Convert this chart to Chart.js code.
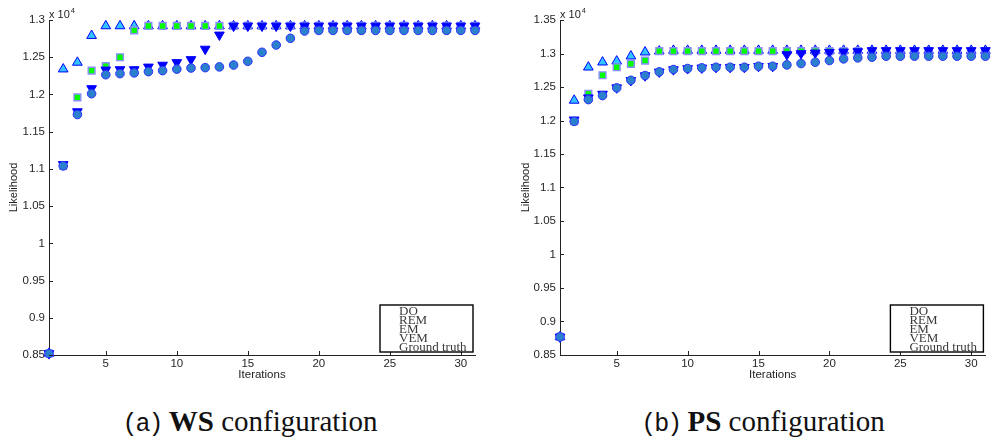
<!DOCTYPE html>
<html><head><meta charset="utf-8">
<script src="https://cdn.jsdelivr.net/npm/chart.js@4/dist/chart.umd.min.js"></script>
<style>
html,body{margin:0;padding:0;background:#fff}
body{width:992px;height:444px;overflow:hidden;position:relative}
.wrap{position:absolute;top:0;width:496px;height:392px}
.cap{position:absolute;top:405px;font-family:"Liberation Serif","Times New Roman",serif;font-size:29px;color:#111;white-space:nowrap;transform:translateX(-50%)}
.cap .m{font-family:"Liberation Mono","DejaVu Sans Mono",monospace;font-size:25px;letter-spacing:-2px;font-weight:300}
.cap b{font-weight:bold}
</style></head><body>
<div class="wrap" style="left:0"><canvas id="c1" width="496" height="392"></canvas></div>
<div class="wrap" style="left:496px"><canvas id="c2" width="496" height="392"></canvas></div>
<div class="cap" style="left:250px"><span class="m">(a)</span> <b>WS</b> configuration</div>
<div class="cap" style="left:763px"><span class="m">(b)</span> <b>PS</b> configuration</div>
<script>
// Data (likelihood in units of 10^4)
const iterations = [1,2,3,4,5,6,7,8,9,10,11,12,13,14,15,16,17,18,19,20,21,22,23,24,25,26,27,28,29,30,31];
const legendLabels = ["DO","REM","EM","VEM","Ground truth"];
const xTicks = [5,10,15,20,25,30];

// (a) WS configuration
const wsDO  = [0.852,1.234,1.243,1.279,1.292,1.292,1.292,1.292,1.292,1.292,1.292,1.292,1.292,1.292,1.292,1.292,1.292,1.292,1.292,1.292,1.292,1.292,1.292,1.292,1.292,1.292,1.292,1.292,1.292,1.292,1.292];
const wsREM = [0.852,1.104,1.196,1.232,1.238,1.250,1.286,1.292,1.292,1.292,1.292,1.292,1.292,1.292,1.292,1.292,1.292,1.292,1.292,1.292,1.292,1.292,1.292,1.292,1.292,1.292,1.292,1.292,1.292,1.292,1.292];
const wsEM  = [0.852,1.104,1.173,1.201,1.2265,1.228,1.229,1.2306,1.232,1.234,1.2355,1.236,1.237,1.2395,1.2445,1.2566,1.2664,1.2754,1.2852,1.286,1.286,1.286,1.286,1.286,1.286,1.286,1.286,1.286,1.286,1.286,1.286];
const wsVEM = [0.852,1.106,1.177,1.208,1.233,1.2335,1.2335,1.237,1.2395,1.243,1.247,1.261,1.280,1.292,1.292,1.292,1.292,1.292,1.292,1.292,1.292,1.292,1.292,1.292,1.292,1.292,1.292,1.292,1.292,1.292,1.292];
const wsTicks = [0.85,0.9,0.95,1,1.05,1.1,1.15,1.2,1.25,1.3];

// (b) PS configuration
const psDO  = [0.877,1.230,1.2795,1.287,1.2885,1.296,1.302,1.3034,1.3045,1.3045,1.3045,1.3045,1.3045,1.3045,1.3045,1.3045,1.3045,1.3045,1.3045,1.3045,1.3045,1.3045,1.3045,1.3045,1.3045,1.3045,1.3045,1.3045,1.3045,1.3045,1.3045];
const psREM = [0.877,1.199,1.2397,1.2675,1.2795,1.2846,1.2895,1.3035,1.3035,1.3035,1.3035,1.3035,1.3035,1.3035,1.3035,1.3035,1.3035,1.3035,1.3035,1.3035,1.3035,1.3035,1.3035,1.3035,1.3035,1.3035,1.3035,1.3035,1.3035,1.3035,1.3035];
const psEM  = [0.877,1.1987,1.2312,1.2372,1.2487,1.260,1.2671,1.2726,1.2761,1.2776,1.2786,1.2795,1.2795,1.2795,1.281,1.281,1.283,1.285,1.287,1.2895,1.292,1.2935,1.2945,1.296,1.296,1.296,1.296,1.296,1.296,1.296,1.296];
const psVEM = [0.877,1.201,1.234,1.2395,1.249,1.260,1.267,1.2726,1.276,1.2776,1.2786,1.2795,1.2795,1.2795,1.281,1.281,1.2985,1.300,1.301,1.302,1.3025,1.303,1.3045,1.3045,1.3045,1.3045,1.3045,1.3045,1.3045,1.3045,1.3045];
const psTicks = [0.85,0.9,0.95,1,1.05,1.1,1.15,1.2,1.25,1.3,1.35];

const pts = arr => arr.map((v,i)=>({x:iterations[i], y:v}));

function datasets(DO, REM, EM, VEM){
  return [
    {label:legendLabels[0], data:pts(DO), pointStyle:'triangle', pointRadius:5.6, backgroundColor:'#33c3ff', borderColor:'#0000ff', pointBorderWidth:1, order:3},
    {label:legendLabels[1], data:pts(REM), pointStyle:'rect', pointRadius:4.8, backgroundColor:'#00ff00', borderColor:'#8c8cff', pointBorderWidth:1.4, order:2},
    {label:legendLabels[2], data:pts(EM), pointStyle:'circle', pointRadius:4.3, backgroundColor:'#2a80cc', borderColor:'#3030ff', pointBorderWidth:1, order:0},
    {label:legendLabels[3], data:pts(VEM), pointStyle:'triangle', pointRotation:180, pointRadius:5.6, backgroundColor:'#0000ff', borderColor:'#0000ff', pointBorderWidth:1, order:1},
    {label:legendLabels[4], data:[], pointStyle:'circle', pointRadius:0, order:4}
  ].map(d=>Object.assign({showLine:false, clip:false, pointHoverRadius:d.pointRadius}, d));
}

const fmt = v => String(Number(v.toFixed(2)));

const decorPlugin = {
  id:'decor',
  afterDraw(chart){
    const ctx = chart.ctx, a = chart.chartArea;
    const xs = chart.scales.x, ys = chart.scales.y;
    ctx.save();
    // inward tick marks
    ctx.strokeStyle = '#222'; ctx.lineWidth = 1;
    ctx.beginPath();
    ys.ticks.forEach(t=>{ const y = Math.round(ys.getPixelForValue(t.value))+0.5; ctx.moveTo(a.left, y); ctx.lineTo(a.left+4, y); });
    xs.ticks.forEach(t=>{ const x = Math.round(xs.getPixelForValue(t.value))+0.5; ctx.moveTo(x, a.bottom); ctx.lineTo(x, a.bottom-4); });
    ctx.stroke();
    // exponent label
    ctx.fillStyle = '#262626';
    ctx.textBaseline = 'alphabetic'; ctx.textAlign = 'left';
    ctx.font = '11px "Liberation Sans", Arial, sans-serif';
    ctx.fillText('x 10', a.left, a.top - 2);
    const w = ctx.measureText('x 10').width;
    ctx.font = '7.5px "Liberation Sans", Arial, sans-serif';
    ctx.fillText('4', a.left + w + 1, a.top - 7);
    // legend box (text only)
    const bw = 93, bh = 47;
    const bx = a.right - 2 - bw, by = a.bottom - 3 - bh;
    ctx.fillStyle = '#fff';
    ctx.fillRect(bx, by, bw, bh);
    ctx.strokeStyle = '#000'; ctx.lineWidth = 1.4;
    ctx.strokeRect(bx, by, bw, bh);
    ctx.fillStyle = '#3a3a3a';
    ctx.font = '13px "Liberation Serif", "Times New Roman", serif';
    ctx.textBaseline = 'middle';
    chart.data.datasets.forEach((d,i)=>{ ctx.fillText(d.label, bx + 19, by + 6.5 + i*9.1); });
    ctx.restore();
  }
};

function makeChart(id, ds, yMin, yMax, yTicks, padLeft, yWidth, padRight){
  return new Chart(document.getElementById(id), {
    type:'scatter',
    data:{datasets:ds},
    plugins:[decorPlugin],
    options:{
      responsive:false, animation:false, devicePixelRatio:1,
      layout:{padding:{left:padLeft, right:padRight, top:20, bottom:0}},
      plugins:{legend:{display:false}, tooltip:{enabled:false}},
      scales:{
        x:{type:'linear', min:1, max:31,
           afterBuildTicks:s=>{ s.ticks = xTicks.map(v=>({value:v})); },
           afterFit:s=>{ s.height = 37; },
           grid:{display:true, drawOnChartArea:false, drawTicks:false},
           border:{display:true, color:'#222', width:1},
           ticks:{color:'#262626', font:{family:'"Liberation Sans", Arial, sans-serif', size:11.5}, padding:2, maxRotation:0, autoSkip:false, callback:v=>String(v)},
           title:{display:true, text:'Iterations', color:'#222', font:{family:'"Liberation Sans", Arial, sans-serif', size:11.5}, padding:{top:0, bottom:10}}
        },
        y:{type:'linear', min:yMin, max:yMax,
           afterBuildTicks:s=>{ s.ticks = yTicks.map(v=>({value:v})); },
           afterFit:s=>{ s.width = yWidth; },
           grid:{display:true, drawOnChartArea:false, drawTicks:false},
           border:{display:true, color:'#222', width:1},
           ticks:{color:'#262626', font:{family:'"Liberation Sans", Arial, sans-serif', size:11.5}, padding:4, autoSkip:false, callback:v=>fmt(v)},
           title:{display:true, text:'Likelihood', color:'#222', font:{family:'"Liberation Sans", Arial, sans-serif', size:11}, padding:{top:7, bottom:0}}
        }
      }
    }
  });
}

makeChart('c1', datasets(wsDO, wsREM, wsEM, wsVEM), 0.85, 1.3, wsTicks, 0, 49, 21);
makeChart('c2', datasets(psDO, psREM, psEM, psVEM), 0.85, 1.35, psTicks, 16, 48, 5);
</script>
</body></html>
